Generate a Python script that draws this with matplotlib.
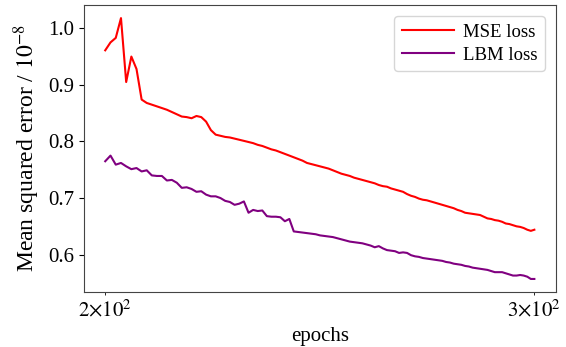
import numpy as np
import matplotlib
matplotlib.use("Agg")
import matplotlib.pyplot as plt
from matplotlib.ticker import FuncFormatter

plt.rcParams['font.family'] = ['Liberation Serif', 'DejaVu Serif']
plt.rcParams['mathtext.fontset'] = 'stix'

epochs = np.arange(200, 301)

mse_loss = [
    0.961, 0.975, 0.983, 1.018, 0.905, 0.950, 0.928, 0.874, 0.868, 0.865,
    0.862, 0.859, 0.856, 0.852, 0.848, 0.844, 0.843, 0.841, 0.845, 0.843,
    0.835, 0.820, 0.812, 0.810, 0.808, 0.807, 0.805, 0.803, 0.801, 0.799,
    0.797, 0.794, 0.792, 0.789, 0.786, 0.784, 0.781, 0.778, 0.775, 0.772,
    0.769, 0.766, 0.762, 0.760, 0.758, 0.756, 0.754, 0.752, 0.749, 0.746,
    0.743, 0.741, 0.739, 0.736, 0.734, 0.732, 0.730, 0.728, 0.726, 0.723,
    0.721, 0.720, 0.717, 0.715, 0.713, 0.711, 0.707, 0.704, 0.702, 0.699,
    0.697, 0.696, 0.694, 0.692, 0.690, 0.688, 0.686, 0.684, 0.682, 0.679,
    0.677, 0.674, 0.673, 0.672, 0.671, 0.670, 0.667, 0.664, 0.663, 0.661,
    0.660, 0.658, 0.655, 0.654, 0.652, 0.650, 0.649, 0.647, 0.644, 0.642,
    0.644,
]

lbm_loss = [
    0.765, 0.775, 0.759, 0.762, 0.756, 0.751, 0.753, 0.747, 0.749, 0.740,
    0.739, 0.739, 0.731, 0.732, 0.727, 0.718, 0.719, 0.716, 0.711, 0.712,
    0.706, 0.703, 0.703, 0.700, 0.695, 0.693, 0.688, 0.690, 0.694, 0.674,
    0.679, 0.677, 0.678, 0.668, 0.667, 0.667, 0.666, 0.659, 0.663, 0.641,
    0.640, 0.639, 0.638, 0.637, 0.636, 0.634, 0.633, 0.632, 0.631, 0.629,
    0.627, 0.625, 0.623, 0.622, 0.621, 0.620, 0.618, 0.616, 0.613, 0.615,
    0.611, 0.608, 0.607, 0.606, 0.603, 0.604, 0.603, 0.599, 0.597, 0.596,
    0.594, 0.593, 0.592, 0.591, 0.590, 0.589, 0.587, 0.586, 0.584, 0.583,
    0.582, 0.580, 0.579, 0.577, 0.576, 0.575, 0.574, 0.573, 0.571, 0.569,
    0.569, 0.569, 0.567, 0.565, 0.563, 0.563, 0.564, 0.563, 0.561, 0.557,
    0.557,
]


def sci_label(x, pos):
    # compact "a×10^b" label for the log-scale minor ticks
    exp = int(np.floor(np.log10(x)))
    mant = int(round(x / 10 ** exp))
    return r'$%d{\times}10^{%d}$' % (mant, exp)


fig = plt.figure(figsize=(5.66, 3.47), dpi=100)
ax = fig.add_axes([0.148, 0.1585, 0.834, 0.827])

ax.plot(epochs, mse_loss, color='red', lw=1.5, label='MSE loss')
ax.plot(epochs, lbm_loss, color='purple', lw=1.5, label='LBM loss')
ax.set_xscale('log')
ax.xaxis.set_minor_formatter(FuncFormatter(sci_label))

for sp in ax.spines.values():
    sp.set_color('#444444')

ax.set_xlabel('epochs', fontsize=15)
ax.set_ylabel(r'Mean squared error / $10^{-8}$', fontsize=17)
ax.tick_params(axis='both', which='both', labelsize=15)
ax.legend(loc='upper right', fontsize=13.5, handlelength=2.8,
          handletextpad=0.45, labelspacing=0.3, borderaxespad=0.6)

fig.savefig('out.png', dpi=100)
